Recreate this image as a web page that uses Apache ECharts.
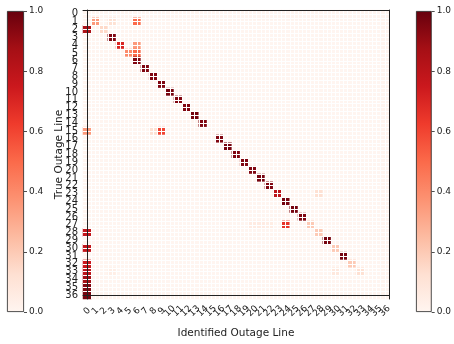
<!DOCTYPE html>
<html>
<head>
<meta charset="utf-8">
<script src="https://cdn.jsdelivr.net/npm/echarts@6/dist/echarts.min.js"></script>
<style>
html, body { margin: 0; padding: 0; background: #fff; }
#chart { width: 454px; height: 344px; }
</style>
</head>
<body>
<div id="chart"></div>
<script>
// outage line ids, same for both axes
var lineLabels = ['0', '1', '2', '3', '4', '5', '6', '7', '8', '9', '10', '11', '12',
  '13', '14', '15', '16', '17', '18', '19', '20', '21', '22', '23', '24', '25',
  '26', '27', '28', '29', '30', '31', '32', '33', '34', '35', '36'];
var cbTicks = [0, 0.2, 0.4, 0.6, 0.8, 1.0];
// non-zero cells: [true line, identified line, share]
var cells = [
  [1, 1, 0.35], [1, 3, 0.12], [1, 6, 0.5],
  [2, 0, 0.85], [2, 2, 0.15],
  [3, 3, 0.95],
  [4, 4, 0.7], [4, 6, 0.35],
  [5, 5, 0.4], [5, 6, 0.5],
  [6, 6, 0.95], [7, 7, 0.95], [8, 8, 0.95], [9, 9, 0.95], [10, 10, 0.97],
  [11, 11, 0.95], [12, 12, 0.95], [13, 13, 0.97], [14, 14, 0.95],
  [15, 0, 0.35], [15, 8, 0.12], [15, 9, 0.6],
  [16, 16, 0.95], [17, 17, 0.97], [18, 18, 0.95], [19, 19, 0.95], [20, 20, 0.95],
  [21, 21, 0.97], [22, 22, 0.95],
  [23, 23, 0.8], [23, 28, 0.12],
  [24, 24, 0.97], [25, 25, 0.97], [26, 26, 0.95],
  [27, 20, 0.06], [27, 21, 0.06], [27, 22, 0.05], [27, 24, 0.65], [27, 27, 0.2],
  [28, 0, 0.78], [28, 28, 0.2],
  [29, 29, 0.97],
  [30, 0, 0.78], [30, 30, 0.2],
  [31, 31, 0.97],
  [32, 0, 0.75], [32, 32, 0.2],
  [33, 0, 0.8], [33, 3, 0.04], [33, 30, 0.08], [33, 33, 0.12],
  [34, 0, 0.88], [35, 0, 0.95], [36, 0, 0.97]
];
var reds = ['#fff5f0', '#fee0d2', '#fcbba1', '#fc9272', '#fb6a4a', '#ef3b2c', '#cb181d', '#a50f15', '#67000d'];

var n = lineLabels.length;
var lookup = {};
cells.forEach(function (c) {
  lookup[c[0] + '_' + c[1]] = c[2];
});
var heatData = [];
for (var i = 0; i < n; i++) {
  for (var j = 0; j < n; j++) {
    heatData.push([j, i, lookup[i + '_' + j] || 0]);
  }
}

var font = 'DejaVu Sans';
var ink = '#222';
var gradStops = reds.map(function (c, k) {
  return { offset: k / (reds.length - 1), color: c };
});

function cbAxis(grid) {
  return {
    type: 'value',
    gridIndex: grid,
    min: cbTicks[0],
    max: cbTicks[cbTicks.length - 1],
    interval: 0.2,
    position: 'right',
    axisLine: { show: false },
    axisTick: { show: true, length: 3, lineStyle: { color: ink, width: 0.8 } },
    axisLabel: {
      fontFamily: font, fontSize: 9, color: ink, margin: 5,
      formatter: function (v) { return v.toFixed(1); }
    },
    splitLine: { show: false }
  };
}

var myChart = echarts.init(document.getElementById('chart'));
var option = {
  backgroundColor: '#fff',
  animation: false,
  grid: [
    { left: 83, top: 10, width: 306, height: 302 },
    { left: 7, top: 11, width: 17, height: 301 },
    { left: 416, top: 11, width: 16, height: 301 }
  ],
  visualMap: {
    type: 'continuous',
    show: false,
    min: 0,
    max: 1,
    seriesIndex: 0,
    inRange: { color: reds }
  },
  xAxis: [
    {
      type: 'category',
      gridIndex: 0,
      data: lineLabels,
      z: 5,
      axisLine: { lineStyle: { color: ink, width: 1 } },
      axisTick: { alignWithLabel: true, length: 3, lineStyle: { color: ink, width: 0.8 } },
      axisLabel: {
        interval: 0, rotate: 45, fontFamily: font, fontSize: 9, color: ink,
        align: 'center', verticalAlign: 'middle', margin: 12
      },
      splitLine: { show: false },
      name: 'Identified Outage Line',
      nameLocation: 'middle',
      nameGap: 29,
      nameMoveOverlap: false,
      nameTextStyle: { fontFamily: font, fontSize: 10.5, color: ink }
    },
    { type: 'category', gridIndex: 1, data: [''], show: false },
    { type: 'category', gridIndex: 2, data: [''], show: false },
    {
      type: 'value',
      gridIndex: 0,
      min: -0.5,
      max: 36.5,
      interval: 0.5,
      position: 'top',
      z: 5,
      axisLine: { show: true, lineStyle: { color: ink, width: 1 } },
      axisTick: { show: false },
      axisLabel: { show: false },
      splitLine: { show: true, showMinLine: false, showMaxLine: false, lineStyle: { color: '#fff', width: 1 } }
    }
  ],
  yAxis: [
    {
      type: 'category',
      gridIndex: 0,
      data: lineLabels,
      inverse: true,
      z: 5,
      axisLine: { lineStyle: { color: ink, width: 1 } },
      axisTick: { alignWithLabel: true, length: 3, lineStyle: { color: ink, width: 0.8 } },
      axisLabel: { interval: 0, fontFamily: font, fontSize: 10, color: ink, margin: 5 },
      splitLine: { show: false },
      name: 'True Outage Line',
      nameLocation: 'middle',
      nameGap: 18,
      nameMoveOverlap: false,
      nameTextStyle: { fontFamily: font, fontSize: 10.5, color: ink }
    },
    cbAxis(1),
    cbAxis(2),
    {
      type: 'value',
      gridIndex: 0,
      min: -0.5,
      max: 36.5,
      interval: 0.5,
      position: 'right',
      z: 5,
      axisLine: { show: true, lineStyle: { color: ink, width: 1 } },
      axisTick: { show: false },
      axisLabel: { show: false },
      splitLine: { show: true, showMinLine: false, showMaxLine: false, lineStyle: { color: '#fff', width: 1 } }
    }
  ],
  series: [
    {
      type: 'heatmap',
      xAxisIndex: 0,
      yAxisIndex: 0,
      data: heatData,
      itemStyle: { borderWidth: 0 }
    },
    {
      type: 'bar',
      xAxisIndex: 1,
      yAxisIndex: 1,
      data: [cbTicks[cbTicks.length - 1]],
      barWidth: '100%',
      itemStyle: {
        color: new echarts.graphic.LinearGradient(0, 1, 0, 0, gradStops),
        borderColor: ink,
        borderWidth: 0.8
      }
    },
    {
      type: 'bar',
      xAxisIndex: 2,
      yAxisIndex: 2,
      data: [cbTicks[cbTicks.length - 1]],
      barWidth: '100%',
      itemStyle: {
        color: new echarts.graphic.LinearGradient(0, 1, 0, 0, gradStops),
        borderColor: ink,
        borderWidth: 0.8
      }
    }
  ]
};
myChart.setOption(option);
</script>
</body>
</html>
